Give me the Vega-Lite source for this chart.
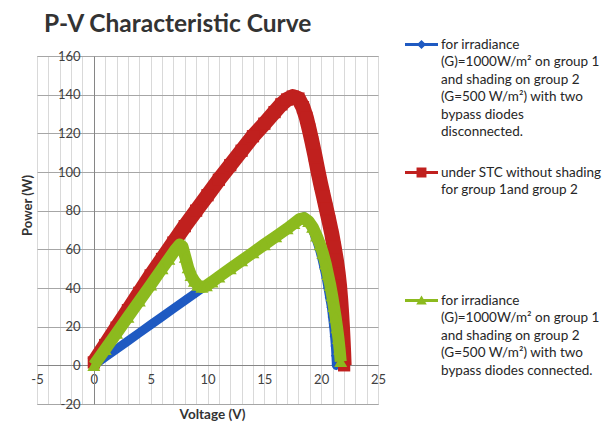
{
  "$schema": "https://vega.github.io/schema/vega-lite/v6.json",
  "width": 341,
  "height": 348,
  "autosize": {"type": "none"},
  "padding": {"left": 37, "top": 56, "right": 231, "bottom": 19},
  "background": "white",
  "config": {
    "view": {"stroke": "#a6a6a6", "strokeWidth": 1},
    "font": "Lato"
  },
  "title": {
    "text": "P-V Characteristic Curve",
    "anchor": "start",
    "frame": "group",
    "dx": 7,
    "dy": 27,
    "offset": 18,
    "font": "Lato",
    "fontSize": 24.5,
    "fontWeight": "bold",
    "color": "#333333"
  },
  "data": {
    "values": [
      {"s": "A", "v": 0, "p": 0}, {"s": "A", "v": 1, "p": 4.2}, {"s": "A", "v": 2, "p": 8.4}, {"s": "A", "v": 3, "p": 12.6},
      {"s": "A", "v": 4, "p": 16.8}, {"s": "A", "v": 5, "p": 21}, {"s": "A", "v": 6, "p": 25.1}, {"s": "A", "v": 7, "p": 29.3},
      {"s": "A", "v": 8, "p": 33.5}, {"s": "A", "v": 9, "p": 37.6}, {"s": "A", "v": 10, "p": 41.8}, {"s": "A", "v": 11, "p": 46},
      {"s": "A", "v": 12, "p": 50.2}, {"s": "A", "v": 13, "p": 54.3}, {"s": "A", "v": 14, "p": 58.5}, {"s": "A", "v": 15, "p": 62.7},
      {"s": "A", "v": 16, "p": 66.8}, {"s": "A", "v": 17, "p": 71}, {"s": "A", "v": 17.6, "p": 73.8}, {"s": "A", "v": 18.1, "p": 76},
      {"s": "A", "v": 18.5, "p": 76.8}, {"s": "A", "v": 18.8, "p": 75}, {"s": "A", "v": 19.1, "p": 72}, {"s": "A", "v": 19.35, "p": 68.5},
      {"s": "A", "v": 19.6, "p": 64.5}, {"s": "A", "v": 19.85, "p": 60}, {"s": "A", "v": 20.05, "p": 55.5}, {"s": "A", "v": 20.25, "p": 50.5},
      {"s": "A", "v": 20.45, "p": 45}, {"s": "A", "v": 20.6, "p": 40}, {"s": "A", "v": 20.75, "p": 35}, {"s": "A", "v": 20.9, "p": 30},
      {"s": "A", "v": 21.0, "p": 25}, {"s": "A", "v": 21.1, "p": 20}, {"s": "A", "v": 21.18, "p": 15}, {"s": "A", "v": 21.25, "p": 10},
      {"s": "A", "v": 21.3, "p": 5}, {"s": "A", "v": 21.34, "p": 0},
      {"s": "B", "v": 0, "p": 1.5}, {"s": "B", "v": 1, "p": 10.5}, {"s": "B", "v": 2, "p": 19.5}, {"s": "B", "v": 3, "p": 28.5},
      {"s": "B", "v": 4, "p": 37.5}, {"s": "B", "v": 5, "p": 46.5}, {"s": "B", "v": 6, "p": 55}, {"s": "B", "v": 7, "p": 63.5},
      {"s": "B", "v": 8, "p": 72}, {"s": "B", "v": 9, "p": 80}, {"s": "B", "v": 10, "p": 88}, {"s": "B", "v": 11, "p": 96},
      {"s": "B", "v": 12, "p": 103.5}, {"s": "B", "v": 13, "p": 111}, {"s": "B", "v": 14, "p": 118.5}, {"s": "B", "v": 15, "p": 125},
      {"s": "B", "v": 15.9, "p": 131}, {"s": "B", "v": 16.5, "p": 135}, {"s": "B", "v": 17, "p": 137.5}, {"s": "B", "v": 17.5, "p": 139},
      {"s": "B", "v": 18.0, "p": 138}, {"s": "B", "v": 18.4, "p": 133.5}, {"s": "B", "v": 18.7, "p": 128}, {"s": "B", "v": 18.95, "p": 122},
      {"s": "B", "v": 19.2, "p": 115.5}, {"s": "B", "v": 19.45, "p": 108.5}, {"s": "B", "v": 19.7, "p": 101}, {"s": "B", "v": 19.95, "p": 94},
      {"s": "B", "v": 20.2, "p": 87.5}, {"s": "B", "v": 20.45, "p": 81}, {"s": "B", "v": 20.7, "p": 74.5}, {"s": "B", "v": 20.95, "p": 67.5},
      {"s": "B", "v": 21.15, "p": 61}, {"s": "B", "v": 21.35, "p": 54}, {"s": "B", "v": 21.5, "p": 47.5}, {"s": "B", "v": 21.62, "p": 41},
      {"s": "B", "v": 21.72, "p": 34}, {"s": "B", "v": 21.8, "p": 27}, {"s": "B", "v": 21.87, "p": 20}, {"s": "B", "v": 21.93, "p": 13},
      {"s": "B", "v": 21.98, "p": 6.5}, {"s": "B", "v": 22.02, "p": 0},
      {"s": "C", "v": 0, "p": 0}, {"s": "C", "v": 1, "p": 8.3}, {"s": "C", "v": 2, "p": 16.6}, {"s": "C", "v": 3, "p": 25},
      {"s": "C", "v": 4, "p": 33.3}, {"s": "C", "v": 5, "p": 41.6}, {"s": "C", "v": 6, "p": 50}, {"s": "C", "v": 6.6, "p": 55},
      {"s": "C", "v": 7.2, "p": 60}, {"s": "C", "v": 7.55, "p": 62.5}, {"s": "C", "v": 7.8, "p": 61.5}, {"s": "C", "v": 8.05, "p": 56},
      {"s": "C", "v": 8.3, "p": 50.5}, {"s": "C", "v": 8.55, "p": 46.5}, {"s": "C", "v": 8.85, "p": 43.5}, {"s": "C", "v": 9.15, "p": 41.5},
      {"s": "C", "v": 9.5, "p": 40.5}, {"s": "C", "v": 9.9, "p": 41.2}, {"s": "C", "v": 10.4, "p": 43.2}, {"s": "C", "v": 11, "p": 45.8},
      {"s": "C", "v": 12, "p": 50}, {"s": "C", "v": 13, "p": 54.2}, {"s": "C", "v": 14, "p": 58.3}, {"s": "C", "v": 15, "p": 62.5},
      {"s": "C", "v": 16, "p": 66.6}, {"s": "C", "v": 17, "p": 70.7}, {"s": "C", "v": 17.6, "p": 73.4}, {"s": "C", "v": 18.1, "p": 75.6},
      {"s": "C", "v": 18.5, "p": 76.2}, {"s": "C", "v": 18.9, "p": 74.5}, {"s": "C", "v": 19.25, "p": 71.5}, {"s": "C", "v": 19.6, "p": 67},
      {"s": "C", "v": 19.9, "p": 62.5}, {"s": "C", "v": 20.15, "p": 58}, {"s": "C", "v": 20.4, "p": 52.5}, {"s": "C", "v": 20.6, "p": 47},
      {"s": "C", "v": 20.8, "p": 41.5}, {"s": "C", "v": 20.97, "p": 36}, {"s": "C", "v": 21.12, "p": 30.5}, {"s": "C", "v": 21.27, "p": 25},
      {"s": "C", "v": 21.4, "p": 19.5}, {"s": "C", "v": 21.52, "p": 14}, {"s": "C", "v": 21.62, "p": 8.5}, {"s": "C", "v": 21.72, "p": 2}
    ]
  },
  "encoding": {
    "x": {
      "field": "v",
      "type": "quantitative",
      "scale": {"domain": [-5, 25], "nice": false, "zero": false},
      "axis": {
        "values": [-5, -4, -3, -2, -1, 0, 1, 2, 3, 4, 5, 6, 7, 8, 9, 10, 11, 12, 13, 14, 15, 16, 17, 18, 19, 20, 21, 22, 23, 24, 25],
        "labelExpr": "datum.value % 5 === 0 ? replace(datum.label, '\u2212', '-') : ''",
        "offset": -39,
        "grid": true,
        "gridColor": "#d9d9d9",
        "gridWidth": 1,
        "ticks": false,
        "domainColor": "#868686",
        "labelPadding": 8,
        "labelFlush": false,
        "labelOverlap": false,
        "labelFont": "Lato",
        "labelFontSize": 13,
        "labelColor": "#404040",
        "title": "Voltage (V)",
        "titleX": 175,
        "titleY": 49,
        "titleBaseline": "middle",
        "titleFont": "Lato",
        "titleFontSize": 13.5,
        "titleFontWeight": "bold",
        "titleColor": "#333333"
      }
    },
    "y": {
      "field": "p",
      "type": "quantitative",
      "scale": {"domain": [-20, 160], "nice": false, "zero": false},
      "axis": {
        "values": [-20, 0, 20, 40, 60, 80, 100, 120, 140, 160],
        "labelExpr": "replace(datum.label, '\u2212', '-')",
        "offset": -57,
        "grid": true,
        "gridColor": "#a6a6a6",
        "gridWidth": 1,
        "ticks": false,
        "domainColor": "#868686",
        "labelPadding": 14,
        "labelFlush": false,
        "labelOverlap": false,
        "labelFont": "Lato",
        "labelFontSize": 13,
        "labelColor": "#404040",
        "title": "Power (W)",
        "titleX": -67,
        "titleY": 149,
        "titleAngle": 270,
        "titleBaseline": "middle",
        "titleFont": "Lato",
        "titleFontSize": 13,
        "titleFontWeight": "bold",
        "titleColor": "#333333"
      }
    },
    "color": {
      "field": "s",
      "type": "nominal",
      "scale": {"domain": ["A", "B", "C"], "range": ["#1F5AC2", "#C0201E", "#8CBA1E"]},
      "legend": {
        "title": null,
        "orient": "none",
        "legendX": 368,
        "legendY": -28,
        "padding": 0,
        "symbolSize": 1089,
        "symbolStrokeWidth": 0,
        "labelFont": "Lato",
        "labelFontSize": 13.5,
        "labelColor": "#262626",
        "labelBaseline": "top",
        "labelOffset": 3,
        "labelLimit": 400,
        "rowPadding": -2,
        "labelExpr": "datum.value === 'A' ? ['for  irradiance', '(G)=1000W/m² on group 1', 'and shading on group 2', '(G=500 W/m²) with two', 'bypass diodes', 'disconnected.', ''] : datum.value === 'B' ? ['under STC without shading', 'for group 1and group 2', '', '', '', '', ''] : ['for  irradiance', '(G)=1000W/m² on group 1', 'and shading on group 2', '(G=500 W/m²) with two', 'bypass diodes connected.', '', '']",
        "encode": {
          "symbols": {
            "update": {
              "shape": {"signal": "datum.value === 'A' ? 'M-1,-0.09H1V0.09H-1Z M0,-0.28L0.28,0L0,0.28L-0.28,0Z' : datum.value === 'B' ? 'M-1,-0.09H1V0.09H-1Z M-0.3,-0.3H0.3V0.3H-0.3Z' : 'M-1,-0.09H1V0.09H-1Z M0,-0.3L0.32,0.24L-0.32,0.24Z'"},
              "fill": {"signal": "scale('color', datum.value)"},
              "stroke": {"value": "transparent"},
              "strokeWidth": {"value": 0},
              "opacity": {"value": 1}
            }
          },
          "labels": {
            "update": {
              "lineHeight": {"value": 17.5},
              "dy": {"value": -7}
            }
          }
        }
      }
    }
  },
  "layer": [
    {"transform": [{"filter": "datum.s === 'A'"}], "mark": {"type": "line", "strokeWidth": 9, "strokeJoin": "round", "strokeCap": "round"}},
    {"transform": [{"filter": "datum.s === 'A'"}], "mark": {"type": "point", "shape": "diamond", "filled": true, "size": 100, "opacity": 1}},
    {"transform": [{"filter": "datum.s === 'B'"}], "mark": {"type": "line", "strokeWidth": 15, "strokeJoin": "round", "strokeCap": "butt"}},
    {"transform": [{"filter": "datum.s === 'B'"}], "mark": {"type": "point", "shape": "square", "filled": true, "size": 150, "opacity": 1}},
    {"transform": [{"filter": "datum.s === 'C'"}], "mark": {"type": "line", "strokeWidth": 12, "strokeJoin": "round", "strokeCap": "butt"}},
    {"transform": [{"filter": "datum.s === 'C'"}], "mark": {"type": "point", "shape": "triangle-up", "filled": true, "size": 169, "opacity": 1}}
  ]
}
